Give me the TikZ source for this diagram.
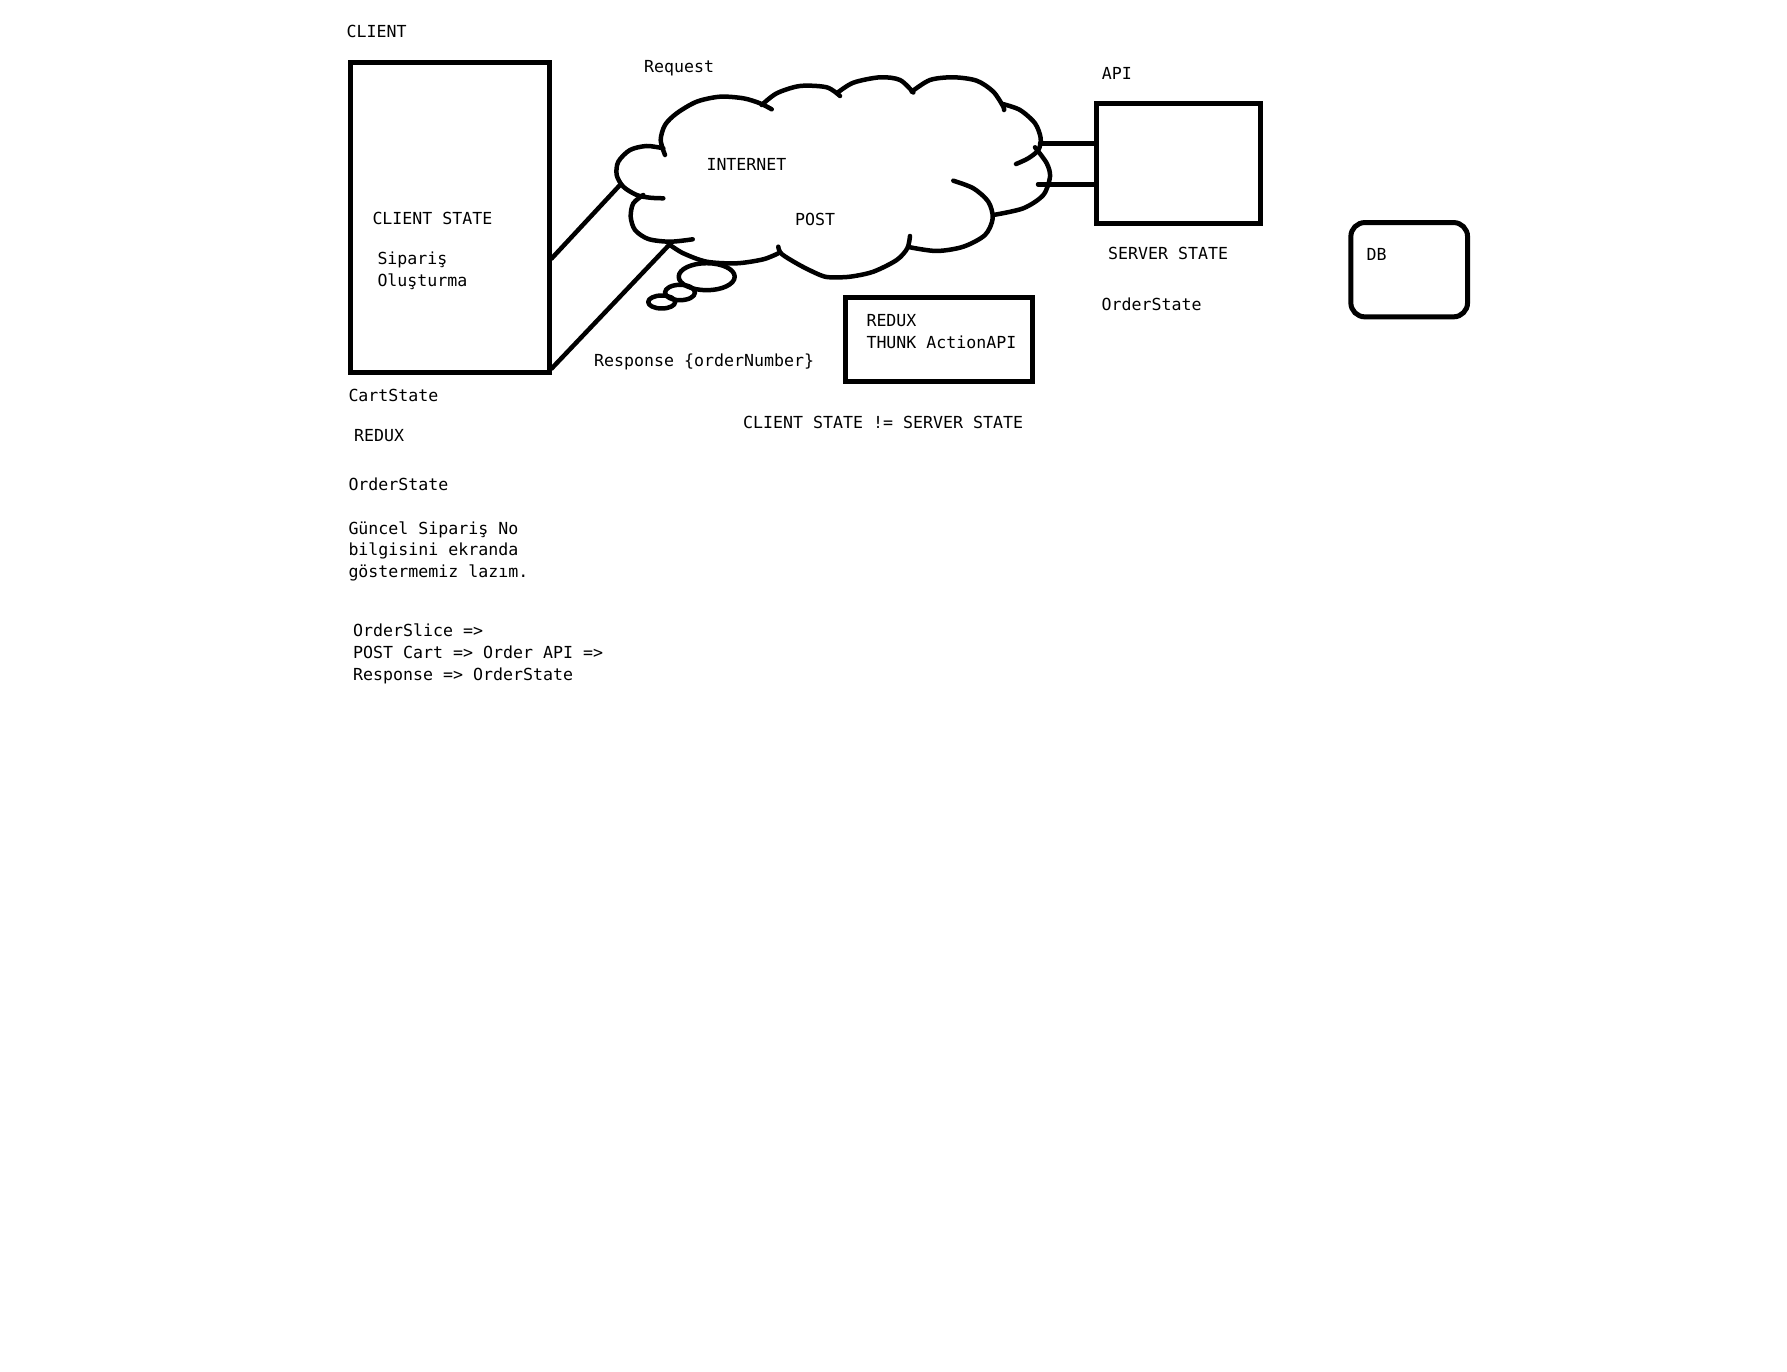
\documentclass[tikz,border=0pt]{standalone}
\usepackage{fontspec}
\newfontfamily\monofont{DejaVu Sans Mono}
\newcommand{\notefont}{\monofont\fontsize{16.6pt}{21.7pt}\selectfont}

\tikzset{
    note/.style={font=\notefont, inner sep=0pt, anchor=base west},
    box/.style={draw, line width=5pt},
    lobe/.style={line width=4.5pt, line cap=round, line join=round},
}

\begin{document}
\begin{tikzpicture}[x=1pt, y=-1pt]
    \useasboundingbox[fill=white] (0,0) rectangle (1787,1372);
    % boxes
    \node[box, minimum width=199pt, minimum height=310pt] (client) at (449.5,217.4) {};
    \node[box, minimum width=164.5pt, minimum height=120.6pt] (api) at (1178.3,163.5) {};
    \node[box, rounded corners=14pt, minimum width=116.7pt,
        minimum height=94.3pt] (db) at (1409.2,269.7) {};
    \node[box, minimum width=186.7pt, minimum height=84pt] (thunk) at (939.2,339.5) {};
    % internet cloud
    \draw[lobe] plot[smooth] coordinates {(665,155) (660.7,140) (665,125)
        (676.7,113.3) (696.7,101.7) (720,96.7) (743.3,98.3) (760,103.3) (771.7,109.3)};
    \draw[lobe] plot[smooth] coordinates {(761.7,105) (776.7,93.3) (800,86)
        (826.7,87.3) (840,96)};
    \draw[lobe] plot[smooth] coordinates {(836.7,93.3) (853.3,82.7) (880,77.3)
        (900,80) (913.3,92.5)};
    \draw[lobe] plot[smooth] coordinates {(911.7,91.7) (930,80) (953.3,77.3)
        (976.7,80.7) (993.3,91.7) (1003.3,106.7) (1004,110)};
    \draw[lobe] plot[smooth] coordinates {(1002.7,104) (1020,110) (1035,123.3)
        (1040.7,138.3) (1038.3,150) (1028.3,158.3) (1016,164)};
    \draw[lobe] plot[smooth] coordinates {(1035,147.3) (1046.7,163.3) (1050,176.7)
        (1043.3,195) (1023.3,208.3) (993.3,215)};
    \draw[lobe] plot[smooth] coordinates {(953.3,180.7) (973.3,188.3) (988.3,201.7)
        (992.7,218.3) (985,235) (963.3,246.7) (936.7,251) (910,247.3)};
    \draw[lobe] plot[smooth] coordinates {(910,236) (907.3,248.3) (896.7,260)
        (873.3,271.7) (850,276.7) (830,277.3) (820,275) (800,265.3)
        (781.7,254) (778.3,246.7)};
    \draw[lobe] plot[smooth] coordinates {(670,245) (683.3,253.3) (706.7,261.7)
        (736.7,263.3) (763.3,259.3) (778.3,253.3)};
    \draw[lobe] plot[smooth] coordinates {(643.3,195) (633.3,203.3) (630.7,216.7)
        (635,230) (648.3,239) (670,241.7) (692.7,239.3)};
    \draw[lobe] plot[smooth] coordinates {(663.3,148.3) (646.7,146) (630,150)
        (618.3,161.7) (616.7,175) (623.3,186.7) (636.7,195) (650,197.7) (663.3,198.3)};
    % thought bubbles
    \draw[lobe] (706.7,276.7) ellipse [x radius=28pt, y radius=13.5pt];
    \draw[lobe] (680,292.5) ellipse [x radius=15pt, y radius=7.7pt];
    \draw[lobe] (661.7,302) ellipse [x radius=13.5pt, y radius=6.5pt];
    % connectors
    \coordinate (inetl) at (620,185);
    \coordinate (inetb) at (670,244);
    \coordinate (inetr1) at (1040,143.3);
    \coordinate (inetr2) at (1038,184.3);
    \draw[lobe] (client.-22) -- (inetl);
    \draw[lobe] (client.-56) -- (inetb);
    \draw[lobe] (inetr1) -- (inetr1 -| api.west);
    \draw[lobe] (inetr2) -- (inetr2 -| api.west);
    % labels
    \node[note] (clientlbl) at (346.5,37.3) {CLIENT};
    \node[note] (reqlbl) at (644,72.7) {Request};
    \node[note] (apilbl) at (1101.7,79.3) {API};
    \node[note] (inetlbl) at (706.3,170.7) {INTERNET};
    \node[note] (postlbl) at (795,225.7) {POST};
    \node[note] (cstate) at (372.3,225) {CLIENT STATE};
    \node[note] (sip1) at (377.3,265) {Sipariş};
    \node[note] (sip2) at (377.3,286.7) {Oluşturma};
    \node[note] (sstate) at (1108,259) {SERVER STATE};
    \node[note] (dblbl) at (1366.3,261) {DB};
    \node[note] (sorder) at (1101.5,310.7) {OrderState};
    \node[note] (thunk1) at (866.3,326.7) {REDUX};
    \node[note] (thunk2) at (866.3,348.3) {THUNK ActionAPI};
    \node[note] (resp) at (594,366.7) {Response \{orderNumber\}};
    \node[note] (cart) at (348.3,401) {CartState};
    \node[note] (redux) at (354,441) {REDUX};
    \node[note] (neq) at (743,428.3) {CLIENT STATE != SERVER STATE};
    \node[note] (corder) at (348.3,490) {OrderState};
    \node[note] (todo1) at (348.3,534) {Güncel Sipariş No};
    \node[note] (todo2) at (348.3,555.7) {bilgisini ekranda};
    \node[note] (todo3) at (348.3,577.3) {göstermemiz lazım.};
    \node[note] (flow1) at (353,636.7) {OrderSlice =>};
    \node[note] (flow2) at (353,658.7) {POST Cart => Order API =>};
    \node[note] (flow3) at (353,680.7) {Response => OrderState};
\end{tikzpicture}
\end{document}
